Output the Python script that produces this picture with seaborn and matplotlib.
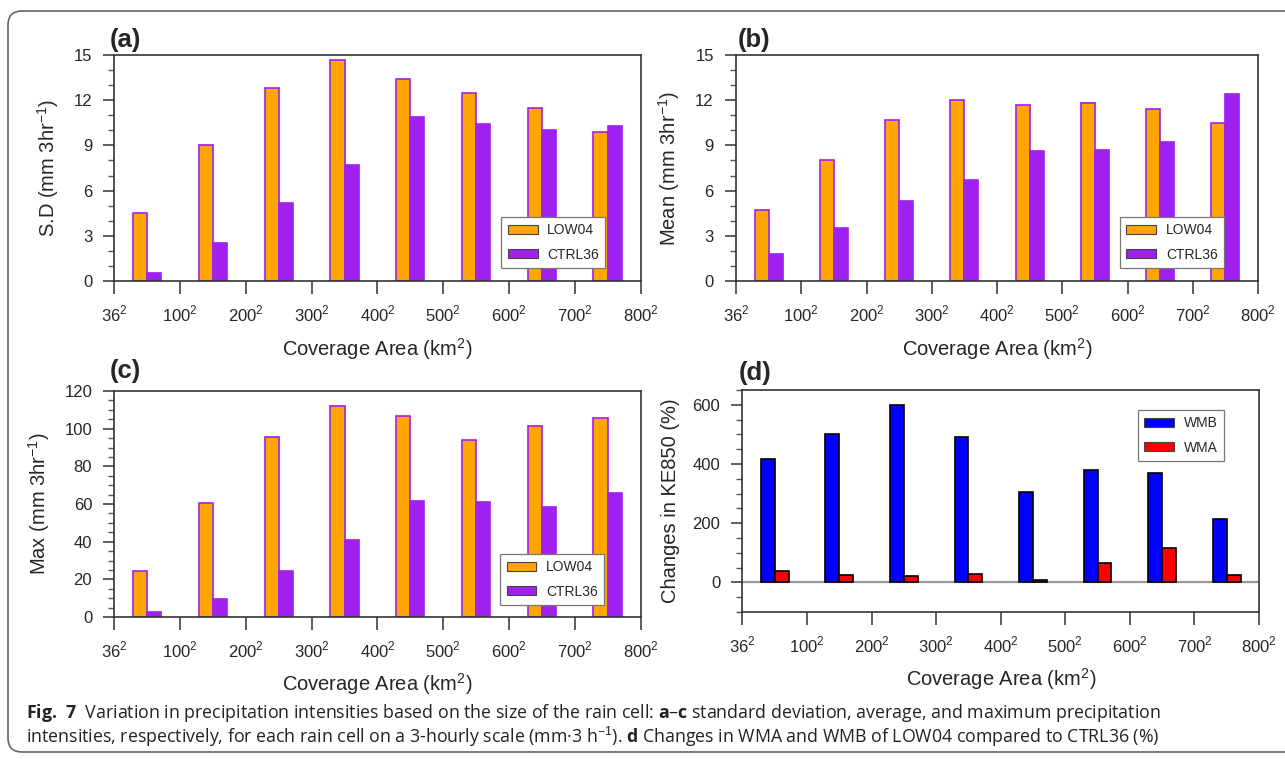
import numpy as np
import pandas as pd
import seaborn as sns
import matplotlib.pyplot as plt
from matplotlib.patches import FancyBboxPatch, Patch
from matplotlib.ticker import MultipleLocator
from matplotlib.transforms import IdentityTransform

# bin edges of the coverage area (km, squared on the axis)
edges = ["36", "100", "200", "300", "400", "500", "600", "700", "800"]
bins = [f"{a}-{b}" for a, b in zip(edges[:-1], edges[1:])]

sd_low04 = [4.5, 9.0, 12.8, 14.7, 13.4, 12.5, 11.5, 9.9]
sd_ctrl36 = [0.5, 2.5, 5.2, 7.7, 10.9, 10.4, 10.0, 10.3]
mean_low04 = [4.7, 8.0, 10.7, 12.0, 11.7, 11.8, 11.4, 10.5]
mean_ctrl36 = [1.8, 3.5, 5.3, 6.7, 8.6, 8.7, 9.2, 12.4]
max_low04 = [24.5, 60.3, 95.4, 111.9, 106.9, 94.0, 101.2, 105.9]
max_ctrl36 = [2.5, 9.6, 24.3, 40.8, 61.7, 61.2, 58.3, 66.0]
ke_wmb = [418, 503, 599, 492, 307, 381, 368, 214]
ke_wma = [38, 25, 20, 27, 9, 65, 116, 26]

ORANGE = "#FFA500"
PURPLE = "#A020F0"
CAPTION_FONT = ["Open Sans", "DejaVu Sans"]

sns.set_style("ticks")
plt.rcParams["font.family"] = ["Liberation Sans", "DejaVu Sans"]
plt.rcParams["mathtext.fontset"] = "custom"
plt.rcParams["mathtext.rm"] = "Liberation Sans"
plt.rcParams["mathtext.bf"] = "Open Sans:bold"

fig = plt.figure(figsize=(12.85, 7.59), dpi=100)
W, H = 1285, 759


def add_axes(x0, y0, x1, y1):
    return fig.add_axes([x0 / W, 1 - y1 / H, (x1 - x0) / W, (y1 - y0) / H])


def panel(ax, first, second, names, colors, edge, ylim, major, minor,
          ylabel, tag, tag_xy, leg_anchor, leg_loc, ylab_x, xlab_y):
    df = pd.DataFrame({
        "bin": bins * 2,
        "value": first + second,
        "run": [names[0]] * len(bins) + [names[1]] * len(bins),
    })
    sns.barplot(data=df, x="bin", y="value", hue="run", order=bins,
                hue_order=names, palette=colors, saturation=1, width=0.43,
                errorbar=None, edgecolor=edge, linewidth=1.2, legend=False, ax=ax)
    ax.set_xlim(-0.5, len(bins) - 0.5)
    ax.set_xticks(np.arange(-0.5, len(bins), 1))
    ax.set_xticklabels([f"{e}$^2$" for e in edges])
    ax.set_ylim(*ylim)
    ax.yaxis.set_major_locator(MultipleLocator(major))
    ax.yaxis.set_minor_locator(MultipleLocator(minor))
    ax.tick_params(axis="x", direction="out", length=9.5, width=1.1, pad=7,
                   labelsize=12, color="#333333")
    ax.tick_params(axis="y", which="major", direction="out", length=8,
                   width=1.1, pad=8, labelsize=12, color="#333333")
    ax.tick_params(axis="y", which="minor", direction="out", length=4.2,
                   width=1, color="#555555")
    for s in ax.spines.values():
        s.set_visible(True)
        s.set_linewidth(1.2)
        s.set_color("#333333")
    ax.set_xlabel("Coverage Area (km$^2$)", fontsize=14.5)
    ax.xaxis.set_label_coords(0.5, xlab_y)
    ax.set_ylabel(ylabel, fontsize=14.5)
    ax.yaxis.set_label_coords(ylab_x, 0.5)
    ax.text(tag_xy[0], tag_xy[1], tag, transform=ax.transAxes, fontsize=18.5,
            fontweight="bold", ha="left", va="bottom")
    handles = [Patch(facecolor=c, edgecolor="#444444", linewidth=0.8) for c in colors]
    leg = ax.legend(handles, names, loc=leg_loc, bbox_to_anchor=leg_anchor,
                    borderaxespad=0, fancybox=False, framealpha=1,
                    edgecolor="#777777", fontsize=10, handlelength=2.15,
                    handleheight=0.6, labelspacing=0.75, borderpad=0.45,
                    handletextpad=0.7)
    leg.get_frame().set_linewidth(0.9)


ax_a = add_axes(114.4, 55, 640.5, 281)
ax_b = add_axes(736, 55, 1258, 281)
ax_c = add_axes(114.4, 391, 640.5, 617)
ax_d = add_axes(742.5, 390, 1259, 612)

low_ctrl = ["LOW04", "CTRL36"]
panel(ax_a, sd_low04, sd_ctrl36, low_ctrl, [ORANGE, PURPLE], PURPLE,
      (0, 15), 3, 1, "S.D (mm 3hr$^{-1}$)", "(a)", (-0.008, 1.013),
      (0.933, 0.058), "lower right", -0.1015, -0.243)
panel(ax_b, mean_low04, mean_ctrl36, low_ctrl, [ORANGE, PURPLE], PURPLE,
      (0, 15), 3, 1, "Mean (mm 3hr$^{-1}$)", "(b)", (0.004, 1.013),
      (0.935, 0.058), "lower right", -0.103, -0.243)
panel(ax_c, max_low04, max_ctrl36, low_ctrl, [ORANGE, PURPLE], PURPLE,
      (0, 120), 20, 5, "Max (mm 3hr$^{-1}$)", "(c)", (-0.008, 1.035),
      (0.931, 0.053), "lower right", -0.118, -0.239)
panel(ax_d, ke_wmb, ke_wma, ["WMB", "WMA"], ["#0000FF", "#FF0000"], "black",
      (-100, 650), 200, 50, "Changes in KE850 (%)", "(d)", (-0.007, 1.023),
      (0.932, 0.91), "upper right", -0.121, -0.243)
ax_d.set_yticks([0, 200, 400, 600])
ax_d.axhline(0, color="#999999", lw=1.6, zorder=0.5)

# caption
fig.text(26 / W, 1 - 713 / H,
         r"$\mathbf{Fig.\ 7}$  Variation in precipitation intensities based on the size of the rain cell: "
         r"$\mathbf{a}$–$\mathbf{c}$ standard deviation, average, and maximum precipitation",
         family=CAPTION_FONT, fontsize=12.8, va="center", ha="left", color="#222222")
fig.text(26 / W, 1 - 737 / H,
         r"intensities, respectively, for each rain cell on a 3-hourly scale (mm·3 h$^{-1}$). "
         r"$\mathbf{d}$ Changes in WMA and WMB of LOW04 compared to CTRL36 (%)",
         family=CAPTION_FONT, fontsize=12.8, va="center", ha="left", color="#222222")

# rounded frame around the figure
frame = FancyBboxPatch((8, 7), 1320, 741, boxstyle="round,pad=0,rounding_size=14",
                       transform=IdentityTransform(), facecolor="none",
                       edgecolor="#666666", linewidth=1.2)
fig.patches.append(frame)

fig.savefig("out.png", dpi=100)
